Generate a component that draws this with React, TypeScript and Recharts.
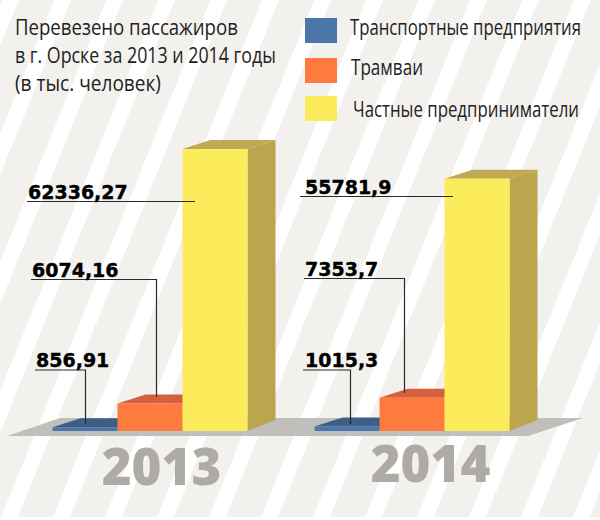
import React from 'react';
import { BarChart, Bar, XAxis, YAxis, ReferenceArea, LabelList, Legend } from 'recharts';

const YEARS = ['2013', '2014'];
const TRANSPORT = [856.91, 1015.3];
const TRAMS = [6074.16, 7353.7];
const PRIVATE = [62336.27, 55781.9];
const VALUE_LABELS = {
  transport: ['856,91', '1015,3'],
  trams: ['6074,16', '7353,7'],
  private: ['62336,27', '55781,9'],
};
const TITLE = ['Перевезено пассажиров', 'в г. Орске за 2013 и 2014 годы', '(в тыс. человек)'];
const SERIES_NAMES = ['Транспортные предприятия', 'Трамваи', 'Частные предприниматели'];

const chartData = YEARS.map((year, i) => ({
  year,
  transport: TRANSPORT[i],
  trams: TRAMS[i],
  private: PRIVATE[i],
}));

const COLORS = {
  transport: { front: '#4a76a8', top: '#3d5f85', side: '#3d5f85' },
  trams: { front: '#ff7a3f', top: '#d65f3e', side: '#d65f3e' },
  private: { front: '#fcec5c', top: '#bfa952', side: '#bba64f' },
};

const DEPTH_X = 28;
const DEPTH_Y = 9;

const TITLE_LAYOUT = [
  { y: 35, w: 223 },
  { y: 63, w: 261 },
  { y: 91, w: 146 },
];
const LEGEND_LAYOUT = [
  { key: 'transport', top: 18, textX: 350, y: 35, w: 231 },
  { key: 'trams', top: 58, textX: 351, y: 75, w: 72 },
  { key: 'private', top: 96, textX: 353, y: 117, w: 226 },
];

// label placement per series and year: text start, underline start and y, and where the leader ends
const LEADERS: any = {
  transport: [
    { textX: 36, from: 35, lineY: 370, endX: 85.5, endY: 424 },
    { textX: 305, from: 303, lineY: 370, endX: 350.5, endY: 424 },
  ],
  trams: [
    { textX: 32, from: 31, lineY: 279.5, endX: 156.5, endY: 397 },
    { textX: 305, from: 304, lineY: 278.5, endX: 404.5, endY: 393 },
  ],
  private: [
    { textX: 28, from: 27, lineY: 201.5, endX: 195, endY: 201.5 },
    { textX: 305, from: 300, lineY: 196.5, endX: 453, endY: 196.5 },
  ],
};

// the reference uses a condensed face, so Open Sans is squeezed to the measured width
const NarrowText = ({ x, y, w, size, children }: any) => (
  <text
    ref={(el: SVGTextElement | null) => {
      if (el) {
        el.setAttribute('transform', `translate(${x},${y}) scale(${w / el.getComputedTextLength()},1)`);
      }
    }}
    transform={`translate(${x},${y})`}
    fontFamily="Open Sans"
    fontSize={size}
    fill="#222"
  >
    {children}
  </text>
);

const box3d = (palette: any) => (props: any) => {
  const { x, y, width, height } = props;
  const r = x + width;
  const b = y + height;
  return (
    <g>
      <polygon
        points={`${x},${y} ${x + DEPTH_X},${y - DEPTH_Y} ${r + DEPTH_X},${y - DEPTH_Y} ${r},${y}`}
        fill={palette.top}
      />
      <polygon
        points={`${r},${y} ${r + DEPTH_X},${y - DEPTH_Y} ${r + DEPTH_X},${b - DEPTH_Y - 2} ${r},${b}`}
        fill={palette.side}
      />
      <rect x={x} y={y} width={width} height={height} rx={1} fill={palette.front} />
    </g>
  );
};

const leaderLabel = (key: string) => (props: any) => {
  const { index } = props;
  const l = LEADERS[key][index];
  const path = `M${l.from},${l.lineY} H${l.endX} V${l.endY}`;
  return (
    <g>
      <path d={path} fill="none" stroke="#2a2a2a" strokeWidth={1.2} />
      <text
        x={l.textX}
        y={l.lineY - 3}
        fontFamily="DejaVu Sans"
        fontWeight={700}
        fontSize={19}
        fill="#000"
        stroke="#000"
        strokeWidth={0.4}
      >
        {VALUE_LABELS[key as keyof typeof VALUE_LABELS][index]}
      </text>
    </g>
  );
};

const Floor = (props: any) => {
  const { x, y, width, height } = props;
  const b = y + height;
  return (
    <polygon
      points={`${x - 11.5},${b} ${x + 41.5},${y} ${x + width + 40.5},${y} ${x + width - 14.5},${b}`}
      fill="#c1bfbb"
    />
  );
};

const YearTick = (props: any) => {
  const { x, payload, index } = props;
  return (
    <text
      x={x + (index === 0 ? 12 : 19)}
      y={index === 0 ? 485 : 482}
      textAnchor="middle"
      fontFamily="Open Sans"
      fontWeight={800}
      fontSize={51}
      fill="#aeaba6"
    >
      {payload.value}
    </text>
  );
};

const LegendBlock = () => (
  <div>
    {LEGEND_LAYOUT.map(row => (
      <div
        key={row.key}
        style={{
          position: 'absolute',
          left: 305,
          top: row.top,
          width: 32,
          height: 25,
          background: COLORS[row.key as keyof typeof COLORS].front,
        }}
      />
    ))}
    <svg width={600} height={140} style={{ position: 'absolute', left: 0, top: 0 }}>
      {LEGEND_LAYOUT.map((row, i) => (
        <NarrowText key={row.key} x={row.textX} y={row.y} w={row.w} size={22}>
          {SERIES_NAMES[i]}
        </NarrowText>
      ))}
    </svg>
  </div>
);

export default function App() {
  return (
    <div
      style={{
        position: 'absolute',
        left: 0,
        top: 0,
        width: 600,
        height: 520,
        overflow: 'hidden',
        background: '#fff',
      }}
    >
      <div
        style={{
          position: 'absolute',
          left: 0,
          top: 0,
          width: 600,
          height: 517,
          background:
            'repeating-linear-gradient(112deg, #f3f1ee 0px, #f3f1ee 2px, #ffffff 2px, #ffffff 17.5px, #f3f1ee 17.5px, #f3f1ee 48.2px)',
        }}
      />
      <svg width={600} height={110} style={{ position: 'absolute', left: 0, top: 0 }}>
        {TITLE.map((line, i) => (
          <NarrowText key={line} x={15} y={TITLE_LAYOUT[i].y} w={TITLE_LAYOUT[i].w} size={22}>
            {line}
          </NarrowText>
        ))}
      </svg>
      <div style={{ position: 'absolute', left: 0, top: 0 }}>
        <BarChart
          width={600}
          height={520}
          data={chartData}
          margin={{ top: 149, right: 57.5, bottom: 54, left: 18.5 }}
          barSize={65}
          barGap={0}
        >
          <XAxis dataKey="year" axisLine={false} tickLine={false} tick={<YearTick />} interval={0} />
          <YAxis hide domain={[-1100, 62336.27]} />
          <ReferenceArea y1={-1100} y2={2900} shape={<Floor />} ifOverflow="visible" />
          <Legend content={<LegendBlock />} wrapperStyle={{ position: 'static' }} />
          <Bar dataKey="transport" isAnimationActive={false} shape={box3d(COLORS.transport)}>
            <LabelList dataKey="transport" content={leaderLabel('transport')} />
          </Bar>
          <Bar dataKey="trams" isAnimationActive={false} shape={box3d(COLORS.trams)}>
            <LabelList dataKey="trams" content={leaderLabel('trams')} />
          </Bar>
          <Bar dataKey="private" isAnimationActive={false} shape={box3d(COLORS.private)}>
            <LabelList dataKey="private" content={leaderLabel('private')} />
          </Bar>
        </BarChart>
      </div>
    </div>
  );
}
